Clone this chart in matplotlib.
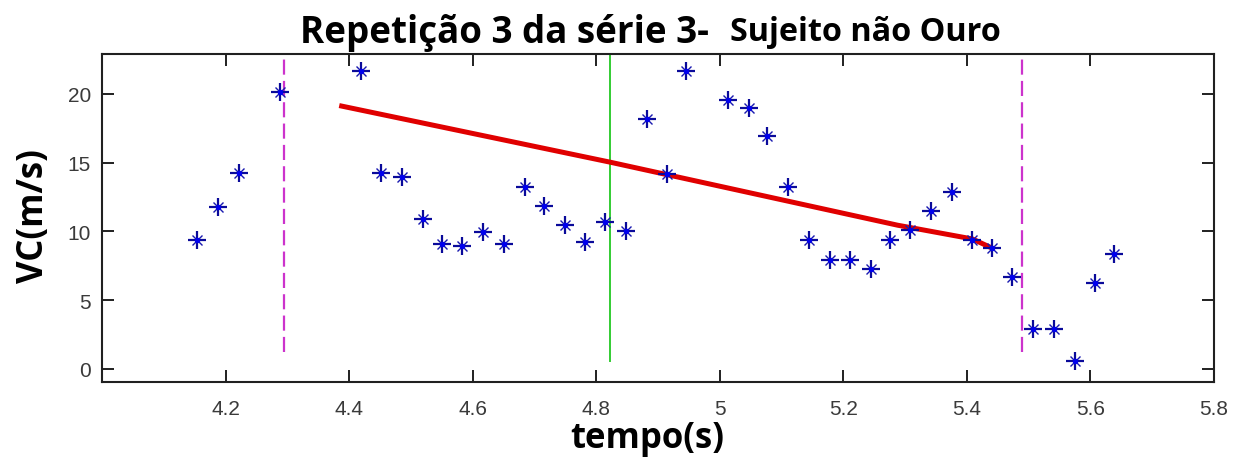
import matplotlib
matplotlib.use("Agg")
import matplotlib.pyplot as plt
import numpy as np

# Sampled velocity (VC) over time
tempo = [4.153, 4.187, 4.221, 4.288, 4.419, 4.452, 4.486, 4.519, 4.550, 4.583,
         4.617, 4.651, 4.684, 4.715, 4.749, 4.782, 4.815, 4.849, 4.882, 4.914,
         4.946, 5.014, 5.047, 5.077, 5.111, 5.145, 5.178, 5.211, 5.245, 5.276,
         5.308, 5.342, 5.376, 5.409, 5.440, 5.473, 5.507, 5.541, 5.575, 5.608,
         5.638]
vc = [9.38, 11.80, 14.23, 20.12, 21.65, 14.23, 13.94, 10.91, 9.09, 8.92,
      9.99, 9.09, 13.21, 11.83, 10.47, 9.26, 10.67, 10.01, 18.18, 14.18,
      21.65, 19.56, 18.96, 16.97, 13.21, 9.41, 7.93, 7.93, 7.27, 9.41,
      10.13, 11.51, 12.90, 9.38, 8.80, 6.71, 2.91, 2.91, 0.61, 6.23,
      8.36]

# Trend line over the analysed interval
tempo_fit = [4.384, 4.823, 5.288, 5.409, 5.441]
vc_fit = [19.15, 15.03, 10.45, 9.45, 8.78]

# Event markers
limites = [4.294, 5.490]
limites_y = [1.2, 23.0]
centro = 4.823
centro_y = [0.6, 23.0]

xticks = [4.2, 4.4, 4.6, 4.8, 5.0, 5.2, 5.4, 5.6, 5.8]
xticklabels = ["4.2", "4.4", "4.6", "4.8", "5", "5.2", "5.4", "5.6", "5.8"]
yticks = [0, 5, 10, 15, 20]

fig = plt.figure(figsize=(12.38, 4.64), dpi=100)
ax = fig.add_axes([102/1238, 1-383/464, (1214-102)/1238, (383-55)/464])

for x in limites:
    ax.plot([x, x], limites_y, color="#cc33cc", lw=1.6, dashes=(6.8, 2.8))
ax.plot([centro, centro], centro_y, color="#33cc33", lw=1.4)

ax.plot(tempo_fit, vc_fit, color="#e00000", lw=3.6, solid_capstyle="butt")

ax.plot(tempo, vc, ls="none", marker="+", ms=13.5, mew=1.6, color="#0a0a9a")
ax.plot(tempo, vc, ls="none", marker="x", ms=7, mew=1.0, color="#1a1ab0")
ax.plot(tempo, vc, ls="none", marker="o", ms=4, mew=0, color="#0000ee")

ax.set_xlim(4.0, 5.8)
ax.set_ylim(-0.95, 22.9)
ax.set_xticks(xticks)
ax.set_xticklabels(xticklabels)
ax.set_yticks(yticks)

for lab in ax.get_xticklabels() + ax.get_yticklabels():
    lab.set_fontfamily(["Liberation Sans", "DejaVu Sans"])
    lab.set_fontsize(15)
    lab.set_color("#3a3a3a")

ax.tick_params(direction="in", length=8.5, width=1.4, top=True, right=True,
               color="#202020")
ax.tick_params(axis="x", pad=12)
ax.tick_params(axis="y", pad=8)
for s in ax.spines.values():
    s.set_linewidth(1.5)
    s.set_color("#202020")

ax.set_xlabel("tempo(s)", fontfamily=["Open Sans", "DejaVu Sans"],
              fontweight="bold", fontsize=25, labelpad=0)
ax.xaxis.set_label_coords(0.49, -0.115)
ax.set_ylabel("VC(m/s)", fontfamily=["Open Sans", "DejaVu Sans"],
              fontweight="bold", fontsize=25)
ax.yaxis.set_label_coords(-0.045, 0.51)

fig.text(300/1238, 1-43/464, "Repetição 3 da série 3-",
         fontfamily=["Open Sans", "DejaVu Sans"], fontweight="bold",
         fontsize=26.5, ha="left", va="baseline")
fig.text(730/1238, 1-41/464, "Sujeito não Ouro",
         fontfamily=["Open Sans", "DejaVu Sans"], fontweight="bold",
         fontsize=23.3, ha="left", va="baseline")

fig.savefig("out.png", dpi=100)
